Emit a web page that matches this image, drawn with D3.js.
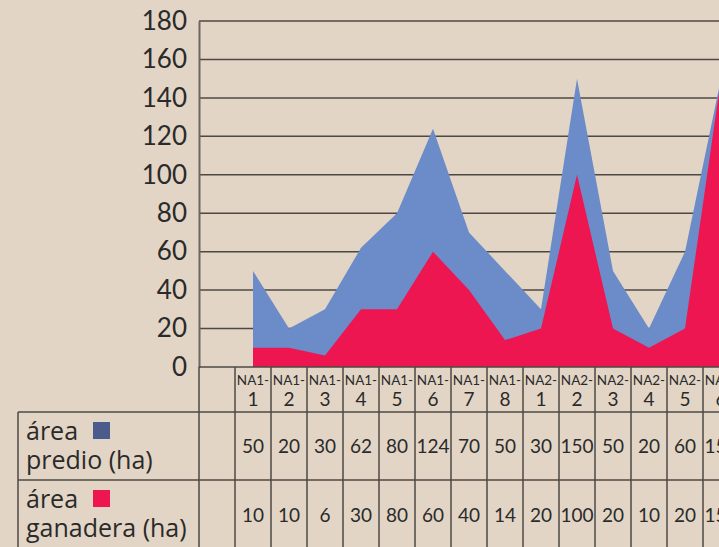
<!DOCTYPE html>
<html>
<head>
<meta charset="utf-8">
<script src="https://cdn.jsdelivr.net/npm/d3@7"></script>
<style>
  body { margin: 0; background: #e2d5c5; overflow: hidden; }
  svg { display: block; }
</style>
</head>
<body>
<div id="chart"></div>
<script>
// categories (first one is an empty column, as in the original sheet)
let categories = ["", "NA1-1", "NA1-2", "NA1-3", "NA1-4", "NA1-5", "NA1-6", "NA1-7",
    "NA1-8", "NA2-1", "NA2-2", "NA2-3", "NA2-4", "NA2-5", "NA2-6"];

// plotted values
let predio   = [null, 50, 20, 30, 62, 80, 124, 70, 50, 30, 150, 50, 20, 60, 150];
let ganadera = [null, 10, 10, 6, 30, 30, 60, 40, 14, 20, 100, 20, 10, 20, 150];

// values printed in the data table
let predioTable   = ["", "50", "20", "30", "62", "80", "124", "70", "50", "30", "150", "50", "20", "60", "150"];
let ganaderaTable = ["", "10", "10", "6", "30", "80", "60", "40", "14", "20", "100", "20", "10", "20", "150"];

let yTicks = [0, 20, 40, 60, 80, 100, 120, 140, 160, 180];

let colors = {
    predio: "#6b8cc8",
    ganadera: "#ee1651",
    predioKey: "#4a5b8c",
    grid: "#4d4843",
    text: "#2a2a2a"
};

let W = 719, H = 547;
let plot = {left: 199, top: 21, bottom: 367};
let colW = 36;
let rows = [367, 412, 480, 547];

let svg = d3.select("#chart").append("svg")
    .attr("width", W)
    .attr("height", H)
    .style("font-family", "Lato, 'Open Sans', sans-serif");

// scales
let x = d3.scaleBand()
    .domain(categories)
    .range([plot.left, plot.left + colW * categories.length])
    .paddingInner(0).paddingOuter(0);

let y = d3.scaleLinear()
    .domain([0, 180])
    .range([plot.bottom, plot.top]);

let cx = d => x(d) + x.bandwidth() / 2;

// gridlines
svg.append("g")
    .selectAll("line")
    .data(yTicks.filter(t => t > 0))
    .join("line")
    .attr("x1", plot.left).attr("x2", W)
    .attr("y1", d => y(d)).attr("y2", d => y(d))
    .attr("stroke", colors.grid)
    .attr("stroke-width", 1.5);

// areas (overlapping, not stacked)
let area = key => d3.area()
    .defined(d => d[key] != null)
    .x(d => cx(d.cat))
    .y0(y(0))
    .y1(d => y(d[key]));

let rowsData = categories.map((c, i) => ({cat: c, predio: predio[i], ganadera: ganadera[i]}));

svg.append("path")
    .datum(rowsData)
    .attr("d", area("predio"))
    .attr("fill", colors.predio);

svg.append("path")
    .datum(rowsData)
    .attr("d", area("ganadera"))
    .attr("fill", colors.ganadera);

// y axis
let yAxis = d3.axisLeft(y)
    .tickValues(yTicks)
    .tickSize(0)
    .tickPadding(12);

let yg = svg.append("g")
    .attr("transform", `translate(${plot.left}, 0)`)
    .call(yAxis);
yg.select(".domain").attr("stroke", "#6e6660").attr("stroke-width", 2);
yg.selectAll("text")
    .attr("font-size", 26)
    .attr("font-family", "Lato, sans-serif")
    .attr("fill", colors.text);

// data table lines
let tbl = svg.append("g").attr("stroke", colors.grid).attr("stroke-width", 1.5);
tbl.append("line").attr("x1", plot.left).attr("x2", W).attr("y1", rows[0]).attr("y2", rows[0]);
tbl.append("line").attr("x1", 18).attr("x2", W).attr("y1", rows[1]).attr("y2", rows[1]);
tbl.append("line").attr("x1", 18).attr("x2", W).attr("y1", rows[2]).attr("y2", rows[2]);
tbl.append("line").attr("x1", 18).attr("x2", 18).attr("y1", rows[1]).attr("y2", H);
tbl.selectAll("line.col")
    .data(categories)
    .join("line")
    .attr("class", "col")
    .attr("x1", d => x(d)).attr("x2", d => x(d))
    .attr("y1", rows[0]).attr("y2", H);

// category labels
let hdr = svg.append("g").attr("fill", colors.text).attr("text-anchor", "middle");
categories.filter(c => c !== "").forEach(c => {
    let parts = c.split("-");
    hdr.append("text")
        .attr("x", cx(c)).attr("y", 385)
        .attr("font-size", 13.5)
        .text(parts[0] + "-");
    hdr.append("text")
        .attr("x", cx(c)).attr("y", 406)
        .attr("font-size", 19)
        .text(parts[1]);
});

// table values
let vals = svg.append("g").attr("fill", colors.text).attr("text-anchor", "middle").attr("font-size", 19);
vals.selectAll("text.p")
    .data(categories)
    .join("text")
    .attr("class", "p")
    .attr("x", d => cx(d)).attr("y", 453)
    .text((d, i) => predioTable[i]);
vals.selectAll("text.g")
    .data(categories)
    .join("text")
    .attr("class", "g")
    .attr("x", d => cx(d)).attr("y", 522)
    .text((d, i) => ganaderaTable[i]);

// legend cells
let legend = [
    {l1: "área", l2: "predio (ha)", c: colors.predioKey, top: rows[1]},
    {l1: "área", l2: "ganadera (ha)", c: colors.ganadera, top: rows[2]}
];
legend.forEach(d => {
    svg.append("text")
        .attr("x", 26).attr("y", d.top + 28)
        .attr("font-size", 25).attr("fill", colors.text)
        .attr("font-family", "'Open Sans', sans-serif")
        .text(d.l1);
    svg.append("text")
        .attr("x", 26).attr("y", d.top + 57)
        .attr("font-size", 25).attr("fill", colors.text)
        .attr("font-family", "'Open Sans', sans-serif")
        .text(d.l2);
    svg.append("rect")
        .attr("x", 93).attr("y", d.top + 10)
        .attr("width", 17).attr("height", 17)
        .attr("fill", d.c);
});
</script>
</body>
</html>
